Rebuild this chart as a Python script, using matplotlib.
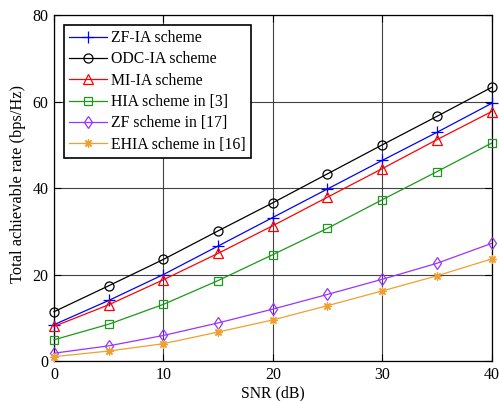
import matplotlib
matplotlib.use("Agg")
import matplotlib.pyplot as plt

snr = [0, 5, 10, 15, 20, 25, 30, 35, 40]
zf_ia = [8.4, 14.0, 20.0, 26.6, 33.2, 39.8, 46.4, 52.9, 59.6]
odc_ia = [11.4, 17.4, 23.5, 30.1, 36.6, 43.3, 50.0, 56.6, 63.3]
mi_ia = [8.0, 13.0, 18.8, 24.9, 31.3, 37.9, 44.5, 51.2, 57.7]
hia = [4.9, 8.5, 13.1, 18.6, 24.6, 30.7, 37.3, 43.8, 50.4]
zf17 = [1.8, 3.5, 5.9, 8.8, 12.0, 15.4, 18.9, 22.6, 27.2]
ehia16 = [1.0, 2.3, 4.0, 6.7, 9.5, 12.8, 16.2, 19.7, 23.6]

labels = ["ZF-IA scheme", "ODC-IA scheme", "MI-IA scheme",
          "HIA scheme in [3]", "ZF scheme in [17]", "EHIA scheme in [16]"]
xticks = [0, 10, 20, 30, 40]
yticks = [0, 20, 40, 60, 80]

plt.rcParams['font.family'] = ['Liberation Serif', 'DejaVu Serif']

fig = plt.figure(figsize=(4.99, 4.01), dpi=100)
ax = fig.add_axes([0.1082, 0.0998, 0.8768, 0.8621])

styles = [
    dict(color='#0000ff', marker='+', ms=8),
    dict(color='#000000', marker='o', ms=6.5),
    dict(color='#ff0000', marker='^', ms=7),
    dict(color='#1a991a', marker='s', ms=5.8),
    dict(color='#9933ff', marker='d', ms=6.5),
    dict(color='#f0a030', marker=(8, 2, 0), ms=6),
]
series = [zf_ia, odc_ia, mi_ia, hia, zf17, ehia16]
for y, lab, st in zip(series, labels, styles):
    ax.plot(snr, y, color=st['color'], marker=st['marker'], ms=st['ms'],
            mfc='none', mec=st['color'], mew=0.9, lw=0.9, label=lab,
            clip_on=False, zorder=3)

ax.set_xlim(0, 40)
ax.set_ylim(0, 80)
ax.set_xticks(xticks)
ax.set_yticks(yticks)
ax.grid(True, color='#222222', lw=0.8, alpha=0.85)
ax.tick_params(direction='in', length=5, width=0.8, top=True, right=True,
               labelsize=11.5, pad=4)
for s in ax.spines.values():
    s.set_linewidth(0.9)
    s.set_color('black')

ax.set_xlabel("SNR (dB)", fontsize=11.3, labelpad=2)
ax.set_ylabel("Total achievable rate (bps/Hz)", fontsize=11.8)
ax.yaxis.set_label_coords(-0.063, 0.513)

leg = ax.legend(loc='upper left', bbox_to_anchor=(0.0, 1.0), numpoints=1,
                fontsize=11.3, handlelength=2.45, handletextpad=0.25,
                labelspacing=0.34, borderpad=0.32, borderaxespad=0.62,
                fancybox=False, framealpha=1, edgecolor='black')
leg.get_frame().set_linewidth(1.2)

fig.savefig("out.png", dpi=100)
